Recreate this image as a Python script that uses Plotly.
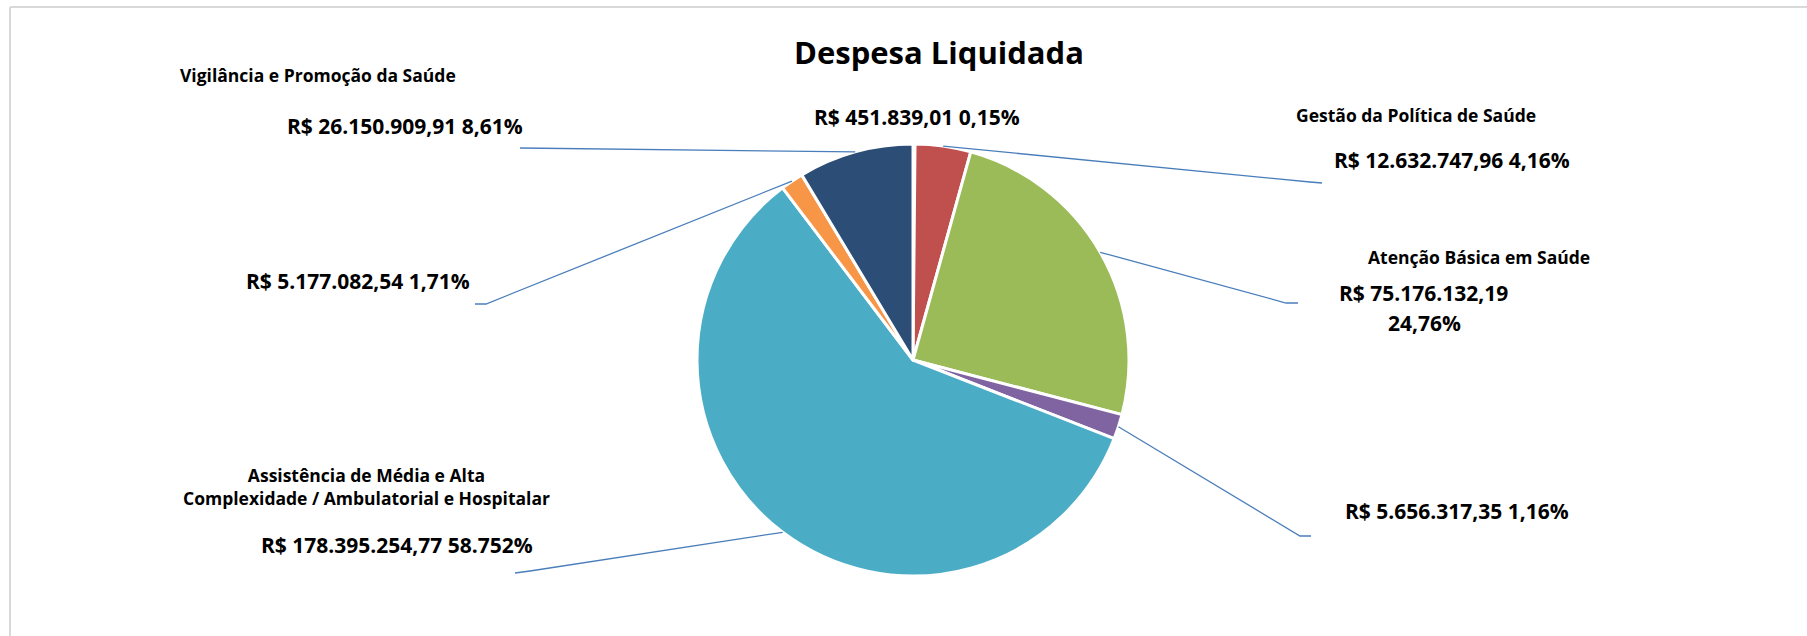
import math
import plotly.graph_objects as go

# ---------------- data ----------------
categories = [
    "Outros (0,15%)",
    "Gestão da Política de Saúde",
    "Atenção Básica em Saúde",
    "Outros (1,16%)",
    "Assistência de Média e Alta Complexidade / Ambulatorial e Hospitalar",
    "Outros (1,71%)",
    "Vigilância e Promoção da Saúde",
]
values = [451839.01, 12632747.96, 75176132.19, 5656317.35, 178395254.77, 5177082.54, 26150909.91]
value_labels = ["R$ 451.839,01", "R$ 12.632.747,96", "R$ 75.176.132,19", "R$ 5.656.317,35",
                "R$ 178.395.254,77", "R$ 5.177.082,54", "R$ 26.150.909,91"]
pct_labels = ["0,15%", "4,16%", "24,76%", "1,16%", "58.752%", "1,71%", "8,61%"]
name_labels = ["", "Gestão da Política de Saúde", "Atenção Básica em Saúde", "",
               "Assistência de Média e Alta<br>Complexidade / Ambulatorial e Hospitalar", "",
               "Vigilância e Promoção da Saúde"]
colors = ["#4F81BD", "#C0504D", "#9BBB59", "#8064A2", "#4BACC6", "#F79646", "#2C4D75"]
title = "Despesa Liquidada"

# ---------------- layout (pixels) ----------------
W, H = 1807, 636
CX, CY, R = 913, 360, 216

def px(x):
    return x / W

def py(y):
    return 1 - y / H

# label positions (px)
name_pos = [None, (1416, 115), (1479, 257), None, (366, 486), None, (318, 75)]
value_pos = [(917, 117), (1452, 160), (1423, 293), (1457, 511), (397, 545), (358, 281), (405, 126)]
pct_pos = [None, None, (1424, 323), None, None, None, None]  # None -> same line as value
# leader line end polylines (px) from slice edge outwards
leader_ends = [None, [(1310, 182), (1322, 183)], [(1286, 303), (1298, 303)],
               [(1300, 536), (1311, 536)], [(530, 571), (515, 573)],
               [(486, 304), (475, 304)], [(520, 148)]]

FONT = "'Open Sans', Lato, sans-serif"
NAME_SIZE = 17.5
VALUE_SIZE = 21
TITLE_SIZE = 31

fig = go.Figure()
fig.add_trace(go.Pie(
    labels=categories,
    values=values,
    sort=False,
    direction="clockwise",
    rotation=0,
    marker=dict(colors=colors, line=dict(color="white", width=3)),
    textinfo="none",
    showlegend=False,
    domain=dict(x=[px(CX - R), px(CX + R)], y=[py(CY + R), py(CY - R)]),
))


def label(x, y, text, size):
    return dict(x=px(x), y=py(y), xref="paper", yref="paper", text="<b>" + text + "</b>",
                showarrow=False, xanchor="center", yanchor="middle",
                font=dict(family=FONT, size=size, color="black"))


annotations = []
shapes = []
total = sum(values)
cum = 0.0
for i, v in enumerate(values):
    mid = (cum + v / 2) / total * 2 * math.pi
    cum += v
    if name_pos[i] is not None:
        annotations.append(label(*name_pos[i], name_labels[i], NAME_SIZE))
    if pct_pos[i] is None:
        annotations.append(label(*value_pos[i], value_labels[i] + " " + pct_labels[i], VALUE_SIZE))
    else:
        annotations.append(label(*value_pos[i], value_labels[i], VALUE_SIZE))
        annotations.append(label(*pct_pos[i], pct_labels[i], VALUE_SIZE))
    if leader_ends[i] is not None:
        sx = CX + R * math.sin(mid)
        sy = CY - R * math.cos(mid)
        pts = [(sx, sy)] + leader_ends[i]
        path = "M " + " L ".join(f"{px(x):.5f},{py(y):.5f}" for x, y in pts)
        shapes.append(dict(type="path", path=path, xref="paper", yref="paper",
                           line=dict(color="#4A7EBB", width=1.3)))

# chart frame
shapes.append(dict(type="line", xref="paper", yref="paper", x0=px(10), x1=1, y0=py(7), y1=py(7),
                   line=dict(color="#D9D9D9", width=2)))
shapes.append(dict(type="line", xref="paper", yref="paper", x0=px(10), x1=px(10), y0=py(7), y1=0,
                   line=dict(color="#D9D9D9", width=2)))

annotations.append(label(939, 52, title, TITLE_SIZE))

fig.update_layout(
    width=W, height=H,
    margin=dict(l=0, r=0, t=0, b=0),
    paper_bgcolor="white",
    plot_bgcolor="white",
    annotations=annotations,
    shapes=shapes,
)

fig.write_html("out.html", config={"displayModeBar": False},
               post_script="document.body.style.margin='0';document.body.style.overflow='hidden';")
